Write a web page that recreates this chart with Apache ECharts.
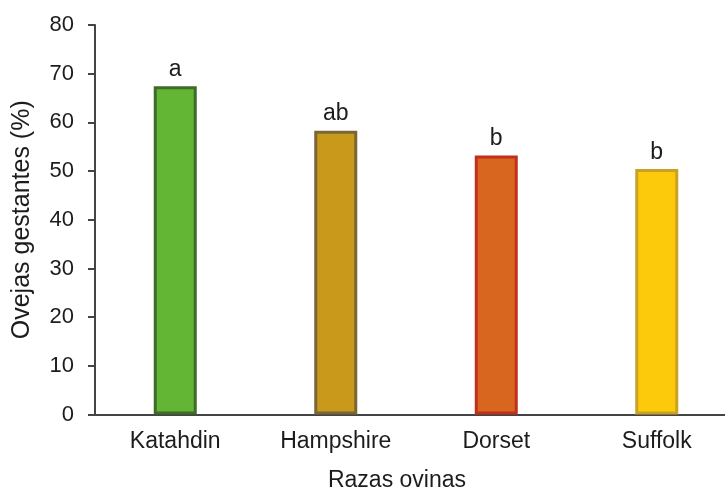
<!DOCTYPE html>
<html><head><meta charset="utf-8">
<script src="https://cdn.jsdelivr.net/npm/echarts@6/dist/echarts.min.js"></script>
<style>html,body{margin:0;padding:0;background:#fff}#c{width:725px;height:491px}</style>
</head><body><div id="c"></div>
<script>
const categories = ['Katahdin', 'Hampshire', 'Dorset', 'Suffolk'];
const values = [67.4, 58.3, 53.2, 50.4];
const letters = ['a', 'ab', 'b', 'b'];
const fills = ['#63b634', '#c8991b', '#d9661e', '#fcca0b'];
const borders = ['#3f6b2a', '#7a6535', '#c0301c', '#c9a225'];
const yTicks = [0, 10, 20, 30, 40, 50, 60, 70, 80];

const chart = echarts.init(document.getElementById('c'));
const font = '"Liberation Sans", Arial, sans-serif';
const txt = '#1c1c1c';
chart.setOption({
  animation: false,
  grid: { left: 95, top: 25, width: 642, height: 389.5, outerBoundsMode: 'none', containLabel: false },
  xAxis: {
    type: 'category', data: categories,
    name: 'Razas ovinas', nameLocation: 'middle', nameGap: 55,
    nameTextStyle: { fontFamily: font, fontSize: 23, color: txt, padding: [0, 38, 0, 0] },
    axisLine: { lineStyle: { color: '#444', width: 2 } },
    axisTick: { show: false },
    axisLabel: { fontFamily: font, fontSize: 23, color: txt, margin: 16 }
  },
  yAxis: {
    type: 'value', min: yTicks[0], max: yTicks[yTicks.length - 1], interval: 10,
    name: 'Ovejas gestantes (%)', nameLocation: 'middle', nameGap: 60,
    nameTextStyle: { fontFamily: font, fontSize: 25, color: txt },
    axisLine: { show: true, lineStyle: { color: '#444', width: 2 } },
    axisTick: { show: true, length: 7, lineStyle: { color: '#444', width: 2 } },
    splitLine: { show: false },
    axisLabel: { fontFamily: font, fontSize: 22, color: txt, margin: 21 }
  },
  series: [{
    type: 'bar', barWidth: 43,
    data: values.map((v, i) => ({
      value: v,
      itemStyle: { color: fills[i], borderColor: borders[i], borderWidth: 3 },
      label: { show: true, position: 'top', formatter: letters[i], distance: 5,
        fontFamily: font, fontSize: 23, color: txt }
    }))
  }]
});
</script></body></html>
